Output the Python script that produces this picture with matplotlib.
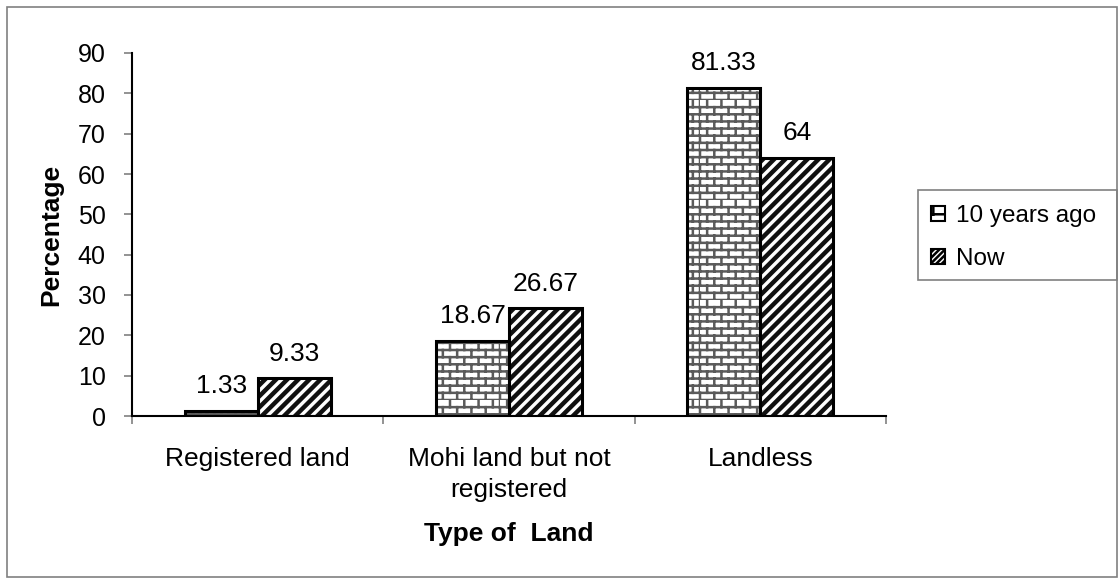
import warnings
import matplotlib
matplotlib.use("Agg")
import matplotlib.pyplot as plt
import matplotlib.hatch as mhatch
from matplotlib.path import Path
from matplotlib.patches import Rectangle, Patch
import numpy as np

warnings.filterwarnings("ignore")

categories = ["Registered land", "Mohi land but not\nregistered", "Landless"]
series_names = ["10 years ago", "Now"]
ten_years_ago = [1.33, 18.67, 81.33]
now = [9.33, 26.67, 64]
y_ticks = [0, 10, 20, 30, 40, 50, 60, 70, 80, 90]


class BrickHatch(mhatch.HatchPatternBase):
    """Brick-wall hatch, selected with the 'b' character."""

    def __init__(self, hatch, density):
        n = hatch.count("b")
        self.num_rows = int(n * 7)
        self.num_cols = int(n * 3.5)
        if self.num_rows:
            self.num_vertices = 2 * self.num_rows + 2 * self.num_rows * (self.num_cols + 1)
        else:
            self.num_vertices = 0

    def set_vertices_and_codes(self, vertices, codes):
        k = 0
        dy = 1.0 / self.num_rows
        for i in range(self.num_rows):
            y = i * dy
            vertices[k] = (0.0, y)
            vertices[k + 1] = (1.0, y)
            codes[k] = Path.MOVETO
            codes[k + 1] = Path.LINETO
            k += 2
        for i in range(self.num_rows):
            y0 = i * dy
            shift = 0.5 * (i % 2)
            for j in range(self.num_cols + 1):
                x = min((j + shift) / self.num_cols, 1.0)
                vertices[k] = (x, y0)
                vertices[k + 1] = (x, y0 + dy)
                codes[k] = Path.MOVETO
                codes[k + 1] = Path.LINETO
                k += 2


mhatch._hatch_types.append(BrickHatch)

plt.rcParams["font.family"] = ["Liberation Sans", "DejaVu Sans"]
plt.rcParams["hatch.linewidth"] = 1.8

W, H = 1118, 578
fig = plt.figure(figsize=(W / 100, H / 100), dpi=100)
fig.patch.set_facecolor("white")
ax = fig.add_axes([132 / W, 1 - 416 / H, 754 / W, (416 - 53) / H])

x = np.arange(len(categories))
w = 0.29

# brick-filled bars (grey pattern) and striped bars (black pattern)
b1 = ax.bar(x - w / 2, ten_years_ago, w, color="white", edgecolor="#5a5a5a",
            hatch="bb", linewidth=0, zorder=2)
b2 = ax.bar(x + w / 2, now, w, color="white", edgecolor="#111111",
            hatch="///", linewidth=0, zorder=2)
for p in b2:
    if hasattr(p, "set_hatch_linewidth"):
        p.set_hatch_linewidth(3.2)
# black outlines on top
ax.bar(x - w / 2, ten_years_ago, w, fill=False, edgecolor="black", linewidth=2.2, zorder=3)
ax.bar(x + w / 2, now, w, fill=False, edgecolor="black", linewidth=2.2, zorder=3)

for xs, vals in ((x - w / 2, ten_years_ago), (x + w / 2, now)):
    for xi, v in zip(xs, vals):
        ax.annotate(f"{v:g}", (xi, v), xytext=(0, 9), textcoords="offset points",
                    ha="center", va="bottom", fontsize=19)

ax.set_xlim(-0.5, len(categories) - 0.5)
ax.set_ylim(0, 90)
ax.set_yticks(y_ticks)
ax.tick_params(axis="y", labelsize=18, length=6, width=1.2, color="#808080", pad=13)

ax.set_xticks(np.arange(len(categories) + 1) - 0.5)
ax.set_xticklabels([])
ax.tick_params(axis="x", which="major", length=6, width=1.2, color="#808080")
ax.set_xticks(x, minor=True)
ax.set_xticklabels(categories, minor=True, fontsize=19, linespacing=1.4)
ax.tick_params(axis="x", which="minor", length=0, pad=22)

for s in ("top", "right"):
    ax.spines[s].set_visible(False)
ax.spines["left"].set_linewidth(1.5)
ax.spines["bottom"].set_linewidth(1.5)

ax.set_ylabel("Percentage", fontsize=19, fontweight="bold", labelpad=10)
ax.set_xlabel("Type of  Land", fontsize=19, fontweight="bold", labelpad=14)

handles = [Patch(facecolor="white", edgecolor="black", hatch="b", linewidth=1.5),
           Patch(facecolor="white", edgecolor="black", hatch="//////", linewidth=1.5)]
leg = fig.legend(handles, series_names, loc="upper left",
                 bbox_to_anchor=(918 / W, 1 - 192 / H), fontsize=17.5,
                 frameon=False, handlelength=0.55, handleheight=0.55,
                 handletextpad=0.45, labelspacing=0.85, borderpad=0.55,
                 borderaxespad=0)

# legend box
fig.patches.append(Rectangle((918 / W, 1 - 280 / H), 199 / W, 90 / H,
                             transform=fig.transFigure, fill=False,
                             edgecolor="#808080", linewidth=1.2))
# outer chart border
fig.patches.append(Rectangle((7 / W, 1 / H), 1110 / W, 570 / H,
                             transform=fig.transFigure, fill=False,
                             edgecolor="#808080", linewidth=1.2))

fig.savefig("out.png", dpi=100, facecolor="white")
